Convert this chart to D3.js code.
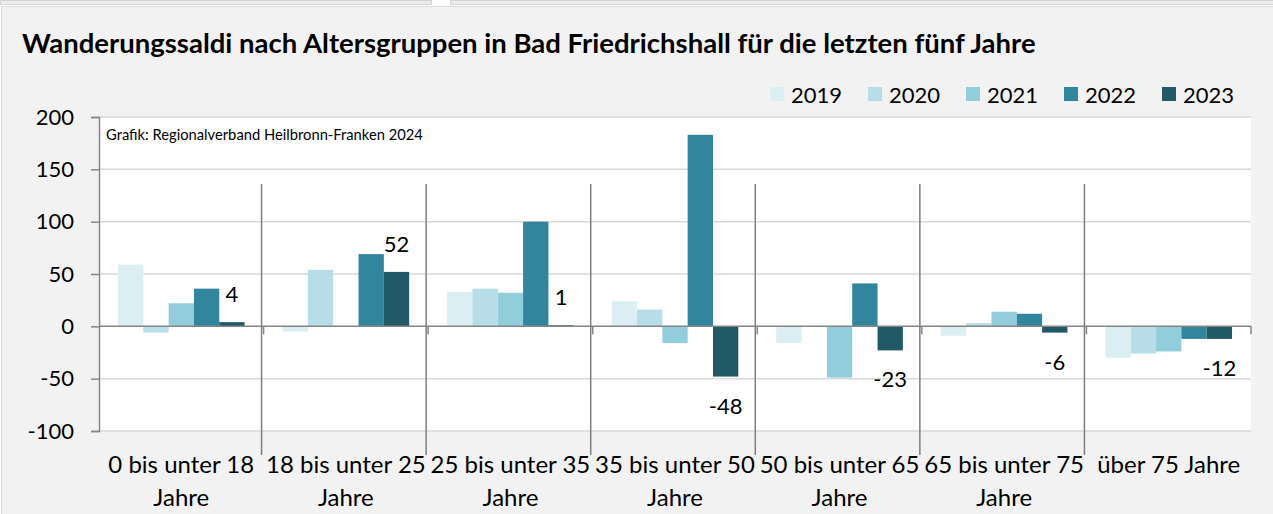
<!DOCTYPE html>
<html>
<head>
<meta charset="utf-8">
<script src="https://cdn.jsdelivr.net/npm/d3@7"></script>
<style>
  body { margin: 0; background: #ffffff; }
  svg { display: block; font-family: Lato, "Noto Sans", sans-serif; }
</style>
</head>
<body>
<div id="chart"></div>
<script>
// Data
const categories = [
    "0 bis unter 18\nJahre",
    "18 bis unter 25\nJahre",
    "25 bis unter 35\nJahre",
    "35 bis unter 50\nJahre",
    "50 bis unter 65\nJahre",
    "65 bis unter 75\nJahre",
    "über 75 Jahre"
];
const years = ["2019", "2020", "2021", "2022", "2023"];
const values2019 = [59, -5, 33, 24, -16, -9, -30];
const values2020 = [-6, 54, 36, 16, 0, 3, -26];
const values2021 = [22, 0, 32, -16, -49, 14, -24];
const values2022 = [36, 69, 100, 183, 41, 12, -12];
const values2023 = [4, 52, 1, -48, -23, -6, -12];
const yTicks = [-100, -50, 0, 50, 100, 150, 200];

const seriesValues = [values2019, values2020, values2021, values2022, values2023];
const colors = ["#daeef3", "#b7dee8", "#92cddc", "#31859c", "#215967"];

// Configuration
const width = 1273;
const height = 514;
const plot = { left: 99, right: 1251, top: 117, bottom: 431 };

const svg = d3.select("#chart")
    .append("svg")
    .attr("width", width)
    .attr("height", height);

// Frame / background
svg.append("rect").attr("x", 0.5).attr("y", 0.5).attr("width", 431).attr("height", 4)
    .attr("fill", "#ebebeb").attr("stroke", "#d4d4d4");
svg.append("rect").attr("x", 450.5).attr("y", 0.5).attr("width", 830).attr("height", 4)
    .attr("fill", "#ebebeb").attr("stroke", "#d4d4d4");
svg.append("rect").attr("x", 1.5).attr("y", 6.5).attr("width", 1290).attr("height", 520)
    .attr("fill", "#f2f2f2").attr("stroke", "#d9d9d9");

// Plot area
svg.append("rect")
    .attr("x", plot.left).attr("y", plot.top)
    .attr("width", plot.right - plot.left).attr("height", plot.bottom - plot.top)
    .attr("fill", "#ffffff");

// Scales
const x0 = d3.scaleBand().domain(categories).range([plot.left, plot.right]).padding(0);
const x1 = d3.scaleBand().domain(years).range([0, x0.bandwidth()]).paddingInner(0).paddingOuter(0.75);
const y = d3.scaleLinear().domain([-100, 200]).range([plot.bottom, plot.top]);
const color = d3.scaleOrdinal().domain(years).range(colors);

// Gridlines
svg.append("g")
    .selectAll("line")
    .data(yTicks.filter(d => d !== 0))
    .join("line")
    .attr("x1", plot.left).attr("x2", plot.right)
    .attr("y1", d => y(d)).attr("y2", d => y(d))
    .attr("stroke", "#d9d9d9")
    .attr("stroke-width", 1.5);

// Bars
const table = categories.map((c, i) => ({
    category: c,
    values: years.map((yr, j) => ({ year: yr, value: seriesValues[j][i] }))
}));

const groups = svg.append("g")
    .selectAll("g")
    .data(table)
    .join("g")
    .attr("transform", d => `translate(${x0(d.category)},0)`);

groups.selectAll("rect")
    .data(d => d.values)
    .join("rect")
    .attr("x", d => x1(d.year))
    .attr("width", x1.bandwidth())
    .attr("y", d => y(Math.max(0, d.value)))
    .attr("height", d => Math.abs(y(d.value) - y(0)))
    .attr("fill", d => color(d.year));

// Y axis (plain hyphen for negatives, like the original)
const yAxis = svg.append("g")
    .attr("transform", `translate(${plot.left},0)`)
    .call(d3.axisLeft(y).tickValues(yTicks).tickSize(8).tickPadding(17).tickFormat(d => String(d)));
yAxis.select(".domain").attr("stroke", "#868686").attr("stroke-width", 1.5);
yAxis.selectAll(".tick line").attr("stroke", "#868686").attr("stroke-width", 1.5);
yAxis.selectAll(".tick text")
    .attr("fill", "#000")
    .style("font-size", "22px")
    .style("font-family", "Lato, sans-serif");

// Zero line with category ticks
svg.append("line")
    .attr("x1", plot.left).attr("x2", plot.right)
    .attr("y1", y(0)).attr("y2", y(0))
    .attr("stroke", "#868686").attr("stroke-width", 1.5);

const boundaries = categories.map(c => x0(c)).concat([plot.right]);
svg.append("g")
    .selectAll("line")
    .data(boundaries.slice(1))
    .join("line")
    .attr("x1", d => d).attr("x2", d => d)
    .attr("y1", y(0)).attr("y2", y(0) + 8)
    .attr("stroke", "#868686").attr("stroke-width", 1.5);

// Separator lines between categories
svg.append("g")
    .selectAll("line")
    .data(categories.slice(1))
    .join("line")
    .attr("x1", d => x0(d) - 2).attr("x2", d => x0(d) - 2)
    .attr("y1", 184).attr("y2", 455)
    .attr("stroke", "#7f7f7f").attr("stroke-width", 1.5);

// Category labels
const catLabels = svg.append("g")
    .selectAll("text")
    .data(categories)
    .join("text")
    .attr("x", d => x0(d) + x0.bandwidth() / 2)
    .attr("y", 473)
    .attr("text-anchor", "middle")
    .style("font-size", "24px")
    .attr("fill", "#000");

catLabels.selectAll("tspan")
    .data(d => d.split("\n"))
    .join("tspan")
    .attr("x", function() { return d3.select(this.parentNode).attr("x"); })
    .attr("dy", (d, i) => i === 0 ? 0 : 33)
    .text(d => d);

// Data labels (2023 only)
const last = years[years.length - 1];
svg.append("g")
    .selectAll("text")
    .data(table)
    .join("text")
    .attr("x", d => x0(d.category) + x1(last) + x1.bandwidth() / 2)
    .attr("y", d => {
        const v = d.values[d.values.length - 1].value;
        return v >= 0 ? y(v) - 20 : y(v) + 37;
    })
    .attr("text-anchor", "middle")
    .style("font-size", "22px")
    .attr("fill", "#000")
    .text(d => d.values[d.values.length - 1].value);

// Source note
const source = svg.append("text")
    .attr("x", 106)
    .attr("y", 140)
    .style("font-size", "13px")
    .attr("fill", "#000")
    .text("Grafik: Regionalverband Heilbronn-Franken 2024");

// Title
const title = svg.append("text")
    .attr("x", 22)
    .attr("y", 53)
    .style("font-size", "25px")
    .style("font-weight", "bold")
    .attr("fill", "#000")
    .text("Wanderungssaldi nach Altersgruppen in Bad Friedrichshall für die letzten fünf Jahre");

// scale a text so its width matches the reference
function fitWidth(sel, target) {
    const size = parseFloat(sel.style("font-size"));
    const w = sel.node().getComputedTextLength();
    sel.style("font-size", (size * target / w).toFixed(2) + "px");
}
fitWidth(title, 1014);
fitWidth(source, 317);

// Legend
const legend = svg.append("g")
    .selectAll("g")
    .data(years)
    .join("g")
    .attr("transform", (d, i) => `translate(${770 + i * 98},87)`);

legend.append("rect")
    .attr("width", 14)
    .attr("height", 14)
    .attr("fill", d => color(d));

legend.append("text")
    .attr("x", 21)
    .attr("y", 16)
    .style("font-size", "22px")
    .attr("fill", "#000")
    .text(d => d);
</script>
</body>
</html>
